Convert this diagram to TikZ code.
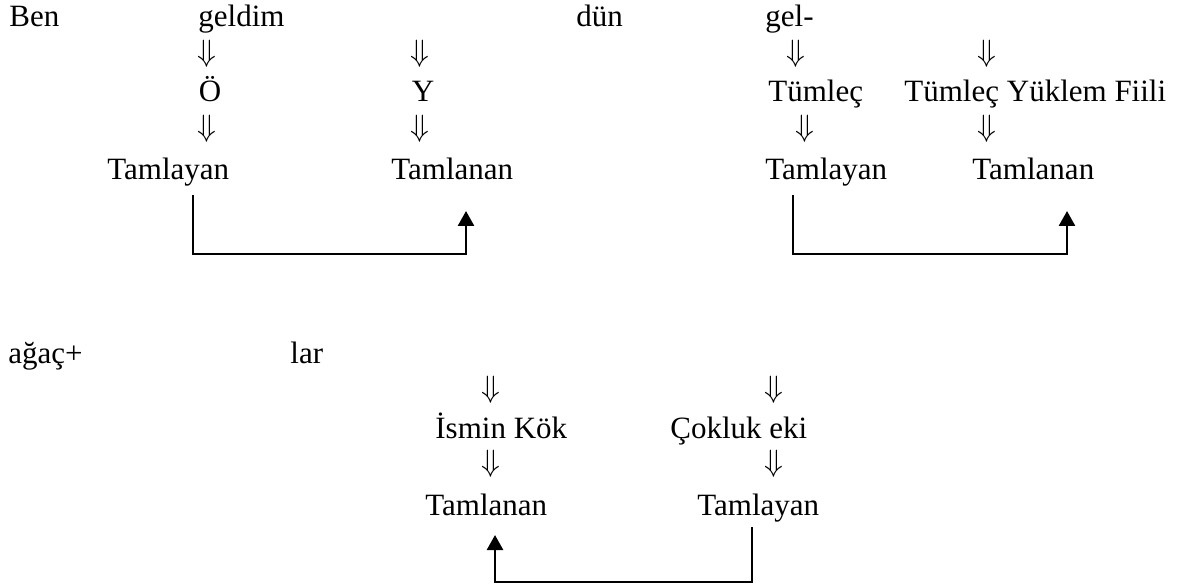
\documentclass[tikz,border=0pt]{standalone}
\usepackage{fontspec}
\setmainfont{Liberation Serif}
\usetikzlibrary{arrows.meta}
\newcommand{\dnarr}{\scalebox{1.07}{\fontsize{14.4}{17}\selectfont$\Downarrow$}}
\tikzset{
  txt/.style={inner sep=0pt, anchor=base west, font=\fontsize{15.5}{18}\selectfont},
  ctxt/.style={inner sep=0pt, anchor=base, font=\fontsize{15.5}{18}\selectfont},
  darr/.style={inner sep=0pt, anchor=center},
  conn/.style={line width=1.3pt, -{Triangle[width=8pt,length=7.5pt]}}
}
\begin{document}
\begin{tikzpicture}[x=0.5pt,y=-0.5pt]
\useasboundingbox (0,0) rectangle (1181,587);
% upper left
\node[txt] (ben) at (9,27) {Ben};
\node[txt] (geldim) at (198,27) {geldim};
\node[darr] (a1) at (207,53.5) {\dnarr};
\node[darr] (a2) at (420,53.5) {\dnarr};
\node[ctxt] (oo) at (210,102) {Ö};
\node[ctxt] (yy) at (423,102) {Y};
\node[darr] (a3) at (207,129) {\dnarr};
\node[darr] (a4) at (420,129) {\dnarr};
\node[txt] (tly1) at (107,180) {Tamlayan};
\node[txt] (tln1) at (391,180) {Tamlanan};
% upper right
\node[txt] (dun) at (576,27) {dün};
\node[txt] (gel) at (765,27) {gel-};
\node[darr] (b1) at (796,53.5) {\dnarr};
\node[darr] (b2) at (987,53.5) {\dnarr};
\node[txt] (tum) at (768,102) {Tümleç};
\node[txt] (tyf) at (904,102) {Tümleç Yüklem Fiili};
\node[darr] (b3) at (805,129) {\dnarr};
\node[darr] (b4) at (987,129) {\dnarr};
\node[txt] (tly2) at (765,180) {Tamlayan};
\node[txt] (tln2) at (972,180) {Tamlanan};
% lower
\node[txt] (agac) at (8,363) {ağaç+};
\node[txt] (lar) at (290,363) {lar};
\node[darr] (c1) at (491,390) {\dnarr};
\node[darr] (c2) at (774,390) {\dnarr};
\node[txt] (ismin) at (435,438) {İsmin Kök};
\node[txt] (cokluk) at (670,438) {Çokluk eki};
\node[darr] (c3) at (491,464) {\dnarr};
\node[darr] (c4) at (774,464) {\dnarr};
\node[txt] (tln3) at (425,515) {Tamlanan};
\node[txt] (tly3) at (697,515) {Tamlayan};
% connectors
\coordinate (k1s) at (193,195);
\coordinate (k1e) at (466,211);
\draw[conn] (k1s) -- ++(0,59) -| (k1e);
\coordinate (k2s) at (793,195);
\coordinate (k2e) at (1067,211);
\draw[conn] (k2s) -- ++(0,59) -| (k2e);
\coordinate (k3s) at (752,527);
\coordinate (k3e) at (495,535);
\draw[conn] (k3s) -- ++(0,55) -| (k3e);
\end{tikzpicture}
\end{document}
